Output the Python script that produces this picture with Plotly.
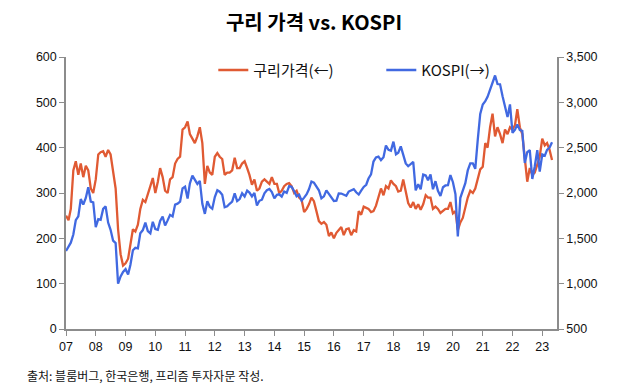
import pandas as pd
import plotly.graph_objects as go

# Monthly copper price (left axis, c/lb) Jan 2007 - May 2023
copper_2007 = [250, 240, 265, 350, 370, 340, 365, 335, 360, 350, 310, 300]
copper_2008 = [330, 385, 390, 392, 380, 395, 385, 345, 310, 220, 165, 140]
copper_2009 = [145, 155, 185, 220, 215, 230, 265, 285, 280, 300, 315, 333]
copper_2010 = [300, 325, 355, 335, 305, 300, 330, 335, 365, 375, 380, 440]
copper_2011 = [445, 458, 430, 420, 410, 425, 445, 410, 320, 360, 345, 340]
copper_2012 = [380, 388, 380, 375, 340, 345, 345, 350, 378, 355, 355, 365]
copper_2013 = [370, 355, 340, 318, 330, 305, 310, 325, 330, 325, 320, 335]
copper_2014 = [320, 320, 300, 305, 315, 320, 322, 315, 300, 305, 290, 285]
copper_2015 = [258, 265, 275, 290, 282, 260, 238, 232, 236, 230, 205, 213]
copper_2016 = [200, 212, 218, 225, 207, 220, 222, 207, 218, 215, 260, 252]
copper_2017 = [270, 268, 265, 258, 260, 272, 290, 310, 295, 315, 310, 328]
copper_2018 = [320, 315, 303, 305, 330, 300, 278, 268, 280, 265, 275, 263]
copper_2019 = [275, 295, 290, 290, 265, 270, 265, 256, 260, 265, 265, 280]
copper_2020 = [255, 260, 218, 235, 245, 270, 290, 305, 300, 310, 335, 352]
copper_2021 = [358, 410, 400, 445, 475, 425, 445, 430, 410, 440, 430, 445]
copper_2022 = [440, 450, 485, 445, 430, 375, 325, 355, 340, 345, 365, 380]
copper_2023 = [420, 405, 410, 395, 373]

# Monthly KOSPI (right axis)
kospi_2007 = [1360, 1417, 1452, 1542, 1700, 1743, 1933, 1873, 1946, 2064, 1906, 1897]
kospi_2008 = [1624, 1711, 1704, 1825, 1852, 1674, 1594, 1474, 1448, 1000, 1080, 1130]
kospi_2009 = [1160, 1100, 1206, 1369, 1395, 1390, 1557, 1591, 1673, 1580, 1555, 1682]
kospi_2010 = [1602, 1594, 1692, 1741, 1641, 1698, 1759, 1742, 1872, 1882, 1905, 2051]
kospi_2011 = [2069, 1939, 2106, 2192, 2142, 2100, 2133, 1880, 1770, 1909, 1848, 1826]
kospi_2012 = [1955, 2030, 2014, 1981, 1843, 1854, 1881, 1905, 1996, 1912, 1933, 1997]
kospi_2013 = [1961, 2026, 2005, 1963, 2001, 1863, 1914, 1926, 1997, 2030, 2044, 2011]
kospi_2014 = [1941, 1980, 1985, 1961, 2017, 2002, 2076, 2068, 2020, 1964, 1981, 1916]
kospi_2015 = [1949, 1986, 2041, 2127, 2114, 2074, 2030, 1941, 1963, 2029, 1991, 1961]
kospi_2016 = [1912, 1916, 1996, 1994, 1983, 1970, 2016, 2034, 2043, 2008, 1983, 2026]
kospi_2017 = [2067, 2091, 2160, 2205, 2347, 2392, 2402, 2363, 2394, 2523, 2476, 2467]
kospi_2018 = [2566, 2427, 2445, 2515, 2423, 2326, 2295, 2322, 2343, 2030, 2097, 2041]
kospi_2019 = [2204, 2195, 2140, 2204, 2041, 2130, 2025, 1967, 2063, 2083, 2087, 2197]
kospi_2020 = [2119, 1987, 1520, 1947, 2030, 2108, 2249, 2326, 2327, 2267, 2591, 2873]
kospi_2021 = [2976, 3013, 3061, 3147, 3204, 3296, 3202, 3199, 3068, 2970, 2839, 2977]
kospi_2022 = [2663, 2699, 2757, 2695, 2685, 2332, 2451, 2472, 2155, 2293, 2472, 2236]
kospi_2023 = [2425, 2412, 2476, 2501, 2560]

copper = (copper_2007 + copper_2008 + copper_2009 + copper_2010 + copper_2011 + copper_2012 +
          copper_2013 + copper_2014 + copper_2015 + copper_2016 + copper_2017 + copper_2018 +
          copper_2019 + copper_2020 + copper_2021 + copper_2022 + copper_2023)
kospi = (kospi_2007 + kospi_2008 + kospi_2009 + kospi_2010 + kospi_2011 + kospi_2012 +
         kospi_2013 + kospi_2014 + kospi_2015 + kospi_2016 + kospi_2017 + kospi_2018 +
         kospi_2019 + kospi_2020 + kospi_2021 + kospi_2022 + kospi_2023)
dates = pd.date_range("2007-01-01", periods=len(copper), freq="MS")

title_text = "구리 가격 vs. KOSPI"
copper_name = "구리가격(←)"
kospi_name = "KOSPI(→)"
source_text = "출처: 블룸버그, 한국은행, 프리즘 투자자문 작성."

COPPER_C = "#E05A33"
KOSPI_C = "#4169E1"
AXIS_C = "#8C8C8C"
FONT = "Liberation Sans Narrow, Liberation Sans, Noto Sans CJK KR, sans-serif"
KFONT = "Noto Sans CJK KR, sans-serif"

fig = go.Figure()
fig.add_trace(go.Scatter(x=dates, y=copper, name=copper_name, mode="lines",
                         line=dict(color=COPPER_C, width=2.3), yaxis="y"))
fig.add_trace(go.Scatter(x=dates, y=kospi, name=kospi_name, mode="lines",
                         line=dict(color=KOSPI_C, width=2.3), yaxis="y2"))

fig.update_layout(
    width=612, height=382,
    margin=dict(l=58, r=63, t=49, b=61, autoexpand=False),
    paper_bgcolor="white", plot_bgcolor="white",
    font=dict(family=FONT, size=12, color="#111"),
    title=dict(text="<b>" + title_text + "</b>", x=0.5, xanchor="center", y=0.96, yanchor="middle",
               font=dict(size=20, family=KFONT, color="#000")),
    showlegend=True,
    legend=dict(orientation="h", x=0.3, y=1.012, xanchor="left", yanchor="top",
                bgcolor="rgba(0,0,0,0)", entrywidth=123, entrywidthmode="pixels",
                font=dict(size=15, family=KFONT, color="#111")),
    xaxis=dict(type="date", range=["2007-01-01", "2023-07-01"], tick0="2007-01-01", dtick="M12",
               tickformat="%y", showgrid=False, showline=True, linecolor=AXIS_C, linewidth=1.5,
               ticks="outside", ticklen=5, tickcolor=AXIS_C, tickfont=dict(size=12.5, family=FONT),
               zeroline=False, automargin=False),
    yaxis=dict(range=[0, 600], dtick=100, showgrid=False, showline=True, linecolor=AXIS_C,
               linewidth=1.5, ticks="outside", ticklen=5, tickcolor=AXIS_C,
               tickfont=dict(size=12.5, family=FONT), zeroline=False, automargin=False),
    yaxis2=dict(range=[500, 3500], dtick=500, overlaying="y", side="right", showgrid=False,
                showline=True, linecolor=AXIS_C, linewidth=1.5, ticks="outside", ticklen=5,
                tickcolor=AXIS_C, tickformat=",", tickfont=dict(size=12.5, family=FONT),
                zeroline=False, automargin=False),
    annotations=[dict(text=source_text, xref="paper", yref="paper", x=-0.083, y=-0.17,
                      xanchor="left", yanchor="middle", showarrow=False,
                      font=dict(size=12, family=KFONT, color="#111"))],
)

fig.write_html("out.html")
